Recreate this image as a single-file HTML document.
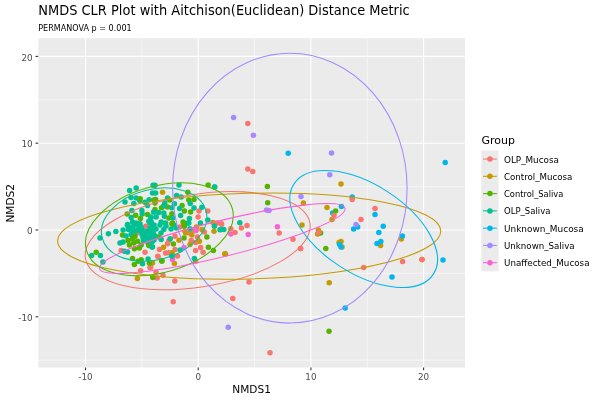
<!DOCTYPE html>
<html lang="en"><head><meta charset="utf-8"><title>NMDS CLR Plot</title>
<style>html,body{margin:0;padding:0;background:#fff;}svg{display:block;}text{font-family:"DejaVu Sans","Liberation Sans",sans-serif;}</style></head><body>
<svg width="600" height="400" viewBox="0 0 600 400">
<rect width="600" height="400" fill="#fff"/>
<rect x="38.25" y="38.25" width="426.75" height="329.25" fill="#EBEBEB"/>
<g stroke="#fff" stroke-width="0.53" opacity="1">
<line x1="141.85" x2="141.85" y1="38.25" y2="367.5"/>
<line x1="254.55" x2="254.55" y1="38.25" y2="367.5"/>
<line x1="367.25" x2="367.25" y1="38.25" y2="367.5"/>
<line y1="360.20" y2="360.20" x1="38.25" x2="465.0"/>
<line y1="273.40" y2="273.40" x1="38.25" x2="465.0"/>
<line y1="186.60" y2="186.60" x1="38.25" x2="465.0"/>
<line y1="99.80" y2="99.80" x1="38.25" x2="465.0"/>
</g>
<g stroke="#fff" stroke-width="1.07">
<line x1="85.50" x2="85.50" y1="38.25" y2="367.5"/>
<line x1="198.20" x2="198.20" y1="38.25" y2="367.5"/>
<line x1="310.90" x2="310.90" y1="38.25" y2="367.5"/>
<line x1="423.60" x2="423.60" y1="38.25" y2="367.5"/>
<line y1="316.80" y2="316.80" x1="38.25" x2="465.0"/>
<line y1="230.00" y2="230.00" x1="38.25" x2="465.0"/>
<line y1="143.20" y2="143.20" x1="38.25" x2="465.0"/>
<line y1="56.40" y2="56.40" x1="38.25" x2="465.0"/>
</g>
<clipPath id="cp"><rect x="38.25" y="38.25" width="426.75" height="329.25"/></clipPath>
<g clip-path="url(#cp)">
<g>
<circle cx="173.2" cy="301.8" r="2.75" fill="#F8766D"/>
<circle cx="174.8" cy="281.0" r="2.75" fill="#F8766D"/>
<circle cx="163.0" cy="275.2" r="2.75" fill="#F8766D"/>
<circle cx="157.2" cy="278.0" r="2.75" fill="#F8766D"/>
<circle cx="156.0" cy="272.0" r="2.75" fill="#F8766D"/>
<circle cx="221.5" cy="224.2" r="2.75" fill="#F8766D"/>
<circle cx="199.0" cy="211.0" r="2.75" fill="#F8766D"/>
<circle cx="207.8" cy="211.0" r="2.75" fill="#F8766D"/>
<circle cx="198.1" cy="216.9" r="2.75" fill="#F8766D"/>
<circle cx="217.1" cy="223.1" r="2.75" fill="#F8766D"/>
<circle cx="221.5" cy="223.8" r="2.75" fill="#F8766D"/>
<circle cx="204.4" cy="232.1" r="2.75" fill="#F8766D"/>
<circle cx="193.1" cy="231.0" r="2.75" fill="#F8766D"/>
<circle cx="200.6" cy="247.5" r="2.75" fill="#F8766D"/>
<circle cx="195.6" cy="250.6" r="2.75" fill="#F8766D"/>
<circle cx="203.1" cy="252.2" r="2.75" fill="#F8766D"/>
<circle cx="195.6" cy="261.2" r="2.75" fill="#F8766D"/>
<circle cx="197.5" cy="236.9" r="2.75" fill="#F8766D"/>
<circle cx="195.6" cy="242.5" r="2.75" fill="#F8766D"/>
<circle cx="191.2" cy="240.6" r="2.75" fill="#F8766D"/>
<circle cx="189.4" cy="233.1" r="2.75" fill="#F8766D"/>
<circle cx="175.0" cy="236.2" r="2.75" fill="#F8766D"/>
<circle cx="175.0" cy="249.4" r="2.75" fill="#F8766D"/>
<circle cx="167.5" cy="243.8" r="2.75" fill="#F8766D"/>
<circle cx="159.4" cy="249.4" r="2.75" fill="#F8766D"/>
<circle cx="165.6" cy="253.1" r="2.75" fill="#F8766D"/>
<circle cx="168.8" cy="252.8" r="2.75" fill="#F8766D"/>
<circle cx="177.5" cy="255.9" r="2.75" fill="#F8766D"/>
<circle cx="157.8" cy="256.2" r="2.75" fill="#F8766D"/>
<circle cx="150.6" cy="267.5" r="2.75" fill="#F8766D"/>
<circle cx="180.0" cy="226.9" r="2.75" fill="#F8766D"/>
<circle cx="145.9" cy="226.2" r="2.75" fill="#F8766D"/>
<circle cx="136.9" cy="233.1" r="2.75" fill="#F8766D"/>
<circle cx="121.2" cy="250.6" r="2.75" fill="#F8766D"/>
<circle cx="145.0" cy="252.2" r="2.75" fill="#F8766D"/>
<circle cx="150.0" cy="267.5" r="2.75" fill="#F8766D"/>
<circle cx="140.6" cy="270.8" r="2.75" fill="#F8766D"/>
<circle cx="158.0" cy="256.5" r="2.75" fill="#F8766D"/>
<circle cx="168.8" cy="240.6" r="2.75" fill="#F8766D"/>
<circle cx="225.5" cy="254.0" r="2.75" fill="#C49A00"/>
<circle cx="162.5" cy="192.2" r="2.75" fill="#C49A00"/>
<circle cx="212.9" cy="222.5" r="2.75" fill="#C49A00"/>
<circle cx="214.0" cy="231.2" r="2.75" fill="#C49A00"/>
<circle cx="201.9" cy="229.4" r="2.75" fill="#C49A00"/>
<circle cx="224.8" cy="253.8" r="2.75" fill="#C49A00"/>
<circle cx="191.9" cy="235.0" r="2.75" fill="#C49A00"/>
<circle cx="199.4" cy="241.2" r="2.75" fill="#C49A00"/>
<circle cx="190.0" cy="244.4" r="2.75" fill="#C49A00"/>
<circle cx="185.6" cy="233.1" r="2.75" fill="#C49A00"/>
<circle cx="179.0" cy="240.2" r="2.75" fill="#C49A00"/>
<circle cx="163.5" cy="247.2" r="2.75" fill="#C49A00"/>
<circle cx="172.2" cy="252.8" r="2.75" fill="#C49A00"/>
<circle cx="174.4" cy="263.4" r="2.75" fill="#C49A00"/>
<circle cx="151.9" cy="263.1" r="2.75" fill="#C49A00"/>
<circle cx="185.0" cy="231.2" r="2.75" fill="#C49A00"/>
<circle cx="152.5" cy="263.1" r="2.75" fill="#C49A00"/>
<circle cx="137.4" cy="278.5" r="2.75" fill="#C49A00"/>
<circle cx="196.5" cy="227.0" r="2.75" fill="#C49A00"/>
<circle cx="214.4" cy="187.0" r="2.75" fill="#00C094"/>
<circle cx="228.2" cy="327.2" r="2.75" fill="#A58AFF"/>
<circle cx="152.8" cy="277.5" r="2.75" fill="#53B400"/>
<circle cx="220.8" cy="229.5" r="2.75" fill="#00C094"/>
<circle cx="223.8" cy="229.5" r="2.75" fill="#00C094"/>
<circle cx="129.6" cy="190.4" r="2.75" fill="#00C094"/>
<circle cx="136.2" cy="188.1" r="2.75" fill="#00C094"/>
<circle cx="153.1" cy="185.2" r="2.75" fill="#00C094"/>
<circle cx="152.5" cy="193.1" r="2.75" fill="#00C094"/>
<circle cx="131.0" cy="197.5" r="2.75" fill="#00C094"/>
<circle cx="136.2" cy="198.1" r="2.75" fill="#00C094"/>
<circle cx="139.8" cy="200.4" r="2.75" fill="#00C094"/>
<circle cx="140.2" cy="198.8" r="2.75" fill="#53B400"/>
<circle cx="125.0" cy="201.9" r="2.75" fill="#00C094"/>
<circle cx="133.8" cy="203.5" r="2.75" fill="#00C094"/>
<circle cx="145.0" cy="202.2" r="2.75" fill="#00C094"/>
<circle cx="149.1" cy="199.8" r="2.75" fill="#00C094"/>
<circle cx="147.5" cy="205.6" r="2.75" fill="#00C094"/>
<circle cx="153.8" cy="200.0" r="2.75" fill="#53B400"/>
<circle cx="131.9" cy="210.4" r="2.75" fill="#00C094"/>
<circle cx="141.9" cy="210.6" r="2.75" fill="#00C094"/>
<circle cx="127.2" cy="214.0" r="2.75" fill="#53B400"/>
<circle cx="131.2" cy="217.5" r="2.75" fill="#00C094"/>
<circle cx="135.6" cy="215.2" r="2.75" fill="#53B400"/>
<circle cx="142.2" cy="214.0" r="2.75" fill="#00C094"/>
<circle cx="140.4" cy="218.5" r="2.75" fill="#53B400"/>
<circle cx="147.5" cy="214.4" r="2.75" fill="#53B400"/>
<circle cx="150.6" cy="216.9" r="2.75" fill="#00C094"/>
<circle cx="153.8" cy="211.9" r="2.75" fill="#00C094"/>
<circle cx="132.5" cy="221.9" r="2.75" fill="#00C094"/>
<circle cx="136.2" cy="223.0" r="2.75" fill="#00C094"/>
<circle cx="127.5" cy="224.4" r="2.75" fill="#00C094"/>
<circle cx="148.8" cy="221.2" r="2.75" fill="#00C094"/>
<circle cx="140.0" cy="223.8" r="2.75" fill="#00C094"/>
<circle cx="155.0" cy="185.2" r="2.75" fill="#00C094"/>
<circle cx="179.0" cy="185.0" r="2.75" fill="#00C094"/>
<circle cx="214.8" cy="187.1" r="2.75" fill="#00C094"/>
<circle cx="208.1" cy="185.0" r="2.75" fill="#53B400"/>
<circle cx="155.6" cy="193.1" r="2.75" fill="#00C094"/>
<circle cx="187.8" cy="192.2" r="2.75" fill="#53B400"/>
<circle cx="176.6" cy="195.6" r="2.75" fill="#00C094"/>
<circle cx="181.2" cy="196.9" r="2.75" fill="#00C094"/>
<circle cx="167.5" cy="198.1" r="2.75" fill="#00C094"/>
<circle cx="169.8" cy="200.0" r="2.75" fill="#53B400"/>
<circle cx="155.6" cy="199.4" r="2.75" fill="#53B400"/>
<circle cx="188.8" cy="200.0" r="2.75" fill="#53B400"/>
<circle cx="194.0" cy="199.6" r="2.75" fill="#53B400"/>
<circle cx="190.2" cy="203.5" r="2.75" fill="#00C094"/>
<circle cx="164.8" cy="203.1" r="2.75" fill="#00C094"/>
<circle cx="155.0" cy="203.0" r="2.75" fill="#53B400"/>
<circle cx="174.4" cy="203.8" r="2.75" fill="#00C094"/>
<circle cx="182.1" cy="205.4" r="2.75" fill="#53B400"/>
<circle cx="163.8" cy="206.0" r="2.75" fill="#00C094"/>
<circle cx="161.5" cy="207.8" r="2.75" fill="#53B400"/>
<circle cx="167.5" cy="206.9" r="2.75" fill="#53B400"/>
<circle cx="171.9" cy="207.8" r="2.75" fill="#00C094"/>
<circle cx="179.6" cy="208.4" r="2.75" fill="#00C094"/>
<circle cx="184.4" cy="211.0" r="2.75" fill="#53B400"/>
<circle cx="190.6" cy="211.9" r="2.75" fill="#53B400"/>
<circle cx="194.0" cy="208.1" r="2.75" fill="#00C094"/>
<circle cx="201.9" cy="207.2" r="2.75" fill="#00C094"/>
<circle cx="155.0" cy="209.4" r="2.75" fill="#53B400"/>
<circle cx="153.8" cy="211.9" r="2.75" fill="#00C094"/>
<circle cx="158.8" cy="212.5" r="2.75" fill="#00C094"/>
<circle cx="163.8" cy="213.1" r="2.75" fill="#00C094"/>
<circle cx="156.2" cy="216.9" r="2.75" fill="#00C094"/>
<circle cx="164.4" cy="216.2" r="2.75" fill="#00C094"/>
<circle cx="171.9" cy="213.8" r="2.75" fill="#53B400"/>
<circle cx="180.6" cy="215.6" r="2.75" fill="#00C094"/>
<circle cx="168.8" cy="218.1" r="2.75" fill="#53B400"/>
<circle cx="172.8" cy="218.1" r="2.75" fill="#00C094"/>
<circle cx="189.4" cy="218.5" r="2.75" fill="#00C094"/>
<circle cx="183.1" cy="221.9" r="2.75" fill="#53B400"/>
<circle cx="188.1" cy="223.1" r="2.75" fill="#00C094"/>
<circle cx="151.2" cy="217.5" r="2.75" fill="#00C094"/>
<circle cx="151.2" cy="221.9" r="2.75" fill="#00C094"/>
<circle cx="161.2" cy="221.9" r="2.75" fill="#00C094"/>
<circle cx="165.6" cy="223.1" r="2.75" fill="#00C094"/>
<circle cx="172.5" cy="223.1" r="2.75" fill="#53B400"/>
<circle cx="207.8" cy="220.0" r="2.75" fill="#00C094"/>
<circle cx="200.4" cy="223.1" r="2.75" fill="#00C094"/>
<circle cx="214.4" cy="226.2" r="2.75" fill="#00C094"/>
<circle cx="220.0" cy="229.8" r="2.75" fill="#00C094"/>
<circle cx="196.2" cy="230.6" r="2.75" fill="#FB61D7"/>
<circle cx="206.9" cy="236.9" r="2.75" fill="#53B400"/>
<circle cx="208.4" cy="247.2" r="2.75" fill="#53B400"/>
<circle cx="213.4" cy="250.6" r="2.75" fill="#53B400"/>
<circle cx="194.4" cy="258.5" r="2.75" fill="#00C094"/>
<circle cx="184.0" cy="237.9" r="2.75" fill="#53B400"/>
<circle cx="170.2" cy="238.8" r="2.75" fill="#00C094"/>
<circle cx="173.4" cy="244.0" r="2.75" fill="#53B400"/>
<circle cx="184.0" cy="247.5" r="2.75" fill="#FB61D7"/>
<circle cx="180.2" cy="250.0" r="2.75" fill="#00C094"/>
<circle cx="171.9" cy="256.2" r="2.75" fill="#00C094"/>
<circle cx="172.5" cy="259.4" r="2.75" fill="#FB61D7"/>
<circle cx="161.9" cy="260.6" r="2.75" fill="#53B400"/>
<circle cx="153.0" cy="226.0" r="2.75" fill="#00C094"/>
<circle cx="156.0" cy="229.0" r="2.75" fill="#00C094"/>
<circle cx="151.0" cy="233.0" r="2.75" fill="#00C094"/>
<circle cx="155.0" cy="236.0" r="2.75" fill="#00C094"/>
<circle cx="161.0" cy="233.0" r="2.75" fill="#00C094"/>
<circle cx="152.0" cy="241.0" r="2.75" fill="#00C094"/>
<circle cx="152.5" cy="246.9" r="2.75" fill="#00C094"/>
<circle cx="163.8" cy="229.4" r="2.75" fill="#00C094"/>
<circle cx="166.0" cy="226.0" r="2.75" fill="#00C094"/>
<circle cx="160.0" cy="225.0" r="2.75" fill="#00C094"/>
<circle cx="171.0" cy="229.0" r="2.75" fill="#00C094"/>
<circle cx="176.2" cy="228.0" r="2.75" fill="#00C094"/>
<circle cx="174.0" cy="225.0" r="2.75" fill="#00C094"/>
<circle cx="171.9" cy="223.8" r="2.75" fill="#53B400"/>
<circle cx="183.5" cy="223.1" r="2.75" fill="#53B400"/>
<circle cx="184.4" cy="226.2" r="2.75" fill="#53B400"/>
<circle cx="188.8" cy="223.0" r="2.75" fill="#00C094"/>
<circle cx="190.0" cy="228.8" r="2.75" fill="#00C094"/>
<circle cx="158.8" cy="236.9" r="2.75" fill="#53B400"/>
<circle cx="161.2" cy="239.4" r="2.75" fill="#00C094"/>
<circle cx="100.0" cy="238.1" r="2.75" fill="#00C094"/>
<circle cx="108.4" cy="233.8" r="2.75" fill="#00C094"/>
<circle cx="115.9" cy="231.6" r="2.75" fill="#00C094"/>
<circle cx="96.2" cy="252.2" r="2.75" fill="#53B400"/>
<circle cx="91.6" cy="255.6" r="2.75" fill="#00C094"/>
<circle cx="100.4" cy="255.4" r="2.75" fill="#00C094"/>
<circle cx="102.9" cy="262.1" r="2.75" fill="#00C094"/>
<circle cx="123.1" cy="230.0" r="2.75" fill="#00C094"/>
<circle cx="122.5" cy="235.0" r="2.75" fill="#53B400"/>
<circle cx="127.5" cy="225.6" r="2.75" fill="#00C094"/>
<circle cx="132.0" cy="227.0" r="2.75" fill="#00C094"/>
<circle cx="137.0" cy="224.0" r="2.75" fill="#00C094"/>
<circle cx="141.0" cy="227.0" r="2.75" fill="#00C094"/>
<circle cx="136.0" cy="231.0" r="2.75" fill="#00C094"/>
<circle cx="131.0" cy="234.5" r="2.75" fill="#00C094"/>
<circle cx="126.0" cy="236.0" r="2.75" fill="#00C094"/>
<circle cx="141.0" cy="231.0" r="2.75" fill="#00C094"/>
<circle cx="145.0" cy="233.0" r="2.75" fill="#00C094"/>
<circle cx="149.0" cy="232.0" r="2.75" fill="#00C094"/>
<circle cx="153.0" cy="230.0" r="2.75" fill="#00C094"/>
<circle cx="150.0" cy="223.0" r="2.75" fill="#00C094"/>
<circle cx="154.0" cy="225.0" r="2.75" fill="#00C094"/>
<circle cx="143.0" cy="238.0" r="2.75" fill="#00C094"/>
<circle cx="147.0" cy="238.0" r="2.75" fill="#00C094"/>
<circle cx="151.0" cy="236.0" r="2.75" fill="#00C094"/>
<circle cx="154.0" cy="240.0" r="2.75" fill="#00C094"/>
<circle cx="148.0" cy="243.0" r="2.75" fill="#00C094"/>
<circle cx="120.0" cy="243.1" r="2.75" fill="#00C094"/>
<circle cx="123.1" cy="241.9" r="2.75" fill="#00C094"/>
<circle cx="128.1" cy="240.6" r="2.75" fill="#53B400"/>
<circle cx="132.5" cy="238.8" r="2.75" fill="#53B400"/>
<circle cx="135.0" cy="236.2" r="2.75" fill="#53B400"/>
<circle cx="129.4" cy="245.0" r="2.75" fill="#53B400"/>
<circle cx="133.8" cy="243.1" r="2.75" fill="#53B400"/>
<circle cx="137.5" cy="241.2" r="2.75" fill="#53B400"/>
<circle cx="134.4" cy="248.8" r="2.75" fill="#53B400"/>
<circle cx="139.4" cy="248.1" r="2.75" fill="#53B400"/>
<circle cx="141.2" cy="245.0" r="2.75" fill="#53B400"/>
<circle cx="148.8" cy="245.6" r="2.75" fill="#53B400"/>
<circle cx="151.9" cy="246.9" r="2.75" fill="#00C094"/>
<circle cx="124.4" cy="251.2" r="2.75" fill="#00C094"/>
<circle cx="127.5" cy="251.9" r="2.75" fill="#00C094"/>
<circle cx="132.5" cy="258.5" r="2.75" fill="#53B400"/>
<circle cx="141.2" cy="259.8" r="2.75" fill="#53B400"/>
<circle cx="138.1" cy="261.2" r="2.75" fill="#53B400"/>
<circle cx="148.1" cy="259.0" r="2.75" fill="#00C094"/>
<circle cx="134.4" cy="264.4" r="2.75" fill="#53B400"/>
<circle cx="142.5" cy="263.8" r="2.75" fill="#00C094"/>
<circle cx="149.4" cy="263.1" r="2.75" fill="#53B400"/>
<circle cx="161.8" cy="261.3" r="2.75" fill="#53B400"/>
<circle cx="128.5" cy="229.5" r="2.75" fill="#00C094"/>
<circle cx="133.0" cy="227.5" r="2.75" fill="#00C094"/>
<circle cx="135.5" cy="224.0" r="2.75" fill="#00C094"/>
<circle cx="138.5" cy="229.0" r="2.75" fill="#00C094"/>
<circle cx="132.5" cy="231.5" r="2.75" fill="#00C094"/>
<circle cx="139.5" cy="225.0" r="2.75" fill="#00C094"/>
<circle cx="142.0" cy="234.5" r="2.75" fill="#00C094"/>
<circle cx="146.5" cy="231.5" r="2.75" fill="#00C094"/>
<circle cx="150.0" cy="228.0" r="2.75" fill="#00C094"/>
<circle cx="153.5" cy="234.0" r="2.75" fill="#00C094"/>
<circle cx="146.0" cy="236.0" r="2.75" fill="#00C094"/>
<circle cx="150.0" cy="239.0" r="2.75" fill="#00C094"/>
<circle cx="143.5" cy="240.5" r="2.75" fill="#00C094"/>
<circle cx="152.0" cy="242.0" r="2.75" fill="#00C094"/>
<circle cx="155.0" cy="237.0" r="2.75" fill="#00C094"/>
<circle cx="151.5" cy="231.0" r="2.75" fill="#00C094"/>
<circle cx="142.0" cy="229.5" r="2.75" fill="#00C094"/>
<circle cx="164.1" cy="205.6" r="2.75" fill="#00C094"/>
<circle cx="172.0" cy="256.1" r="2.75" fill="#00C094"/>
<circle cx="233.6" cy="117.6" r="2.75" fill="#A58AFF"/>
<circle cx="253.4" cy="135.2" r="2.75" fill="#A58AFF"/>
<circle cx="331.5" cy="153.0" r="2.75" fill="#A58AFF"/>
<circle cx="329.8" cy="174.8" r="2.75" fill="#A58AFF"/>
<circle cx="247.8" cy="123.6" r="2.75" fill="#F8766D"/>
<circle cx="247.8" cy="169.0" r="2.75" fill="#F8766D"/>
<circle cx="252.8" cy="171.6" r="2.75" fill="#F8766D"/>
<circle cx="288.2" cy="153.2" r="2.75" fill="#00B6EB"/>
<circle cx="445.2" cy="162.5" r="2.75" fill="#00B6EB"/>
<circle cx="267.4" cy="186.4" r="2.75" fill="#53B400"/>
<circle cx="341.0" cy="184.0" r="2.75" fill="#C49A00"/>
<circle cx="301.0" cy="196.6" r="2.75" fill="#A58AFF"/>
<circle cx="303.4" cy="203.0" r="2.75" fill="#C49A00"/>
<circle cx="302.0" cy="225.0" r="2.75" fill="#C49A00"/>
<circle cx="300.6" cy="248.4" r="2.75" fill="#F8766D"/>
<circle cx="352.2" cy="197.0" r="2.75" fill="#00B6EB"/>
<circle cx="352.2" cy="199.6" r="2.75" fill="#F8766D"/>
<circle cx="327.0" cy="207.6" r="2.75" fill="#C49A00"/>
<circle cx="341.4" cy="206.4" r="2.75" fill="#00B6EB"/>
<circle cx="332.6" cy="213.0" r="2.75" fill="#00B6EB"/>
<circle cx="335.6" cy="211.0" r="2.75" fill="#53B400"/>
<circle cx="332.0" cy="219.6" r="2.75" fill="#C49A00"/>
<circle cx="334.0" cy="215.4" r="2.75" fill="#F8766D"/>
<circle cx="361.0" cy="219.6" r="2.75" fill="#F8766D"/>
<circle cx="353.6" cy="229.0" r="2.75" fill="#00B6EB"/>
<circle cx="357.6" cy="227.0" r="2.75" fill="#00B6EB"/>
<circle cx="356.0" cy="224.4" r="2.75" fill="#A58AFF"/>
<circle cx="375.0" cy="208.4" r="2.75" fill="#F8766D"/>
<circle cx="375.0" cy="214.6" r="2.75" fill="#00B6EB"/>
<circle cx="383.2" cy="226.2" r="2.75" fill="#00B6EB"/>
<circle cx="378.8" cy="232.4" r="2.75" fill="#00B6EB"/>
<circle cx="380.6" cy="245.6" r="2.75" fill="#C49A00"/>
<circle cx="377.0" cy="243.4" r="2.75" fill="#00B6EB"/>
<circle cx="380.8" cy="241.6" r="2.75" fill="#00B6EB"/>
<circle cx="401.4" cy="239.0" r="2.75" fill="#C49A00"/>
<circle cx="402.4" cy="236.0" r="2.75" fill="#00B6EB"/>
<circle cx="318.4" cy="230.0" r="2.75" fill="#C49A00"/>
<circle cx="317.6" cy="234.0" r="2.75" fill="#C49A00"/>
<circle cx="320.6" cy="233.0" r="2.75" fill="#53B400"/>
<circle cx="319.0" cy="232.2" r="2.75" fill="#F8766D"/>
<circle cx="339.0" cy="242.4" r="2.75" fill="#C49A00"/>
<circle cx="341.0" cy="241.6" r="2.75" fill="#C49A00"/>
<circle cx="342.0" cy="247.0" r="2.75" fill="#C49A00"/>
<circle cx="339.6" cy="244.4" r="2.75" fill="#00B6EB"/>
<circle cx="341.0" cy="247.0" r="2.75" fill="#00B6EB"/>
<circle cx="325.8" cy="248.4" r="2.75" fill="#53B400"/>
<circle cx="402.6" cy="261.4" r="2.75" fill="#F8766D"/>
<circle cx="363.7" cy="267.4" r="2.75" fill="#F8766D"/>
<circle cx="422.0" cy="259.6" r="2.75" fill="#C49A00"/>
<circle cx="422.0" cy="259.6" r="2.75" fill="#F8766D"/>
<circle cx="443.0" cy="260.0" r="2.75" fill="#00B6EB"/>
<circle cx="329.2" cy="282.8" r="2.75" fill="#C49A00"/>
<circle cx="345.2" cy="308.0" r="2.75" fill="#00B6EB"/>
<circle cx="392.0" cy="277.0" r="2.75" fill="#00B6EB"/>
<circle cx="329.0" cy="331.2" r="2.75" fill="#53B400"/>
<circle cx="232.8" cy="298.5" r="2.75" fill="#F8766D"/>
<circle cx="249.0" cy="282.0" r="2.75" fill="#F8766D"/>
<circle cx="270.0" cy="352.8" r="2.75" fill="#F8766D"/>
<circle cx="267.7" cy="202.8" r="2.75" fill="#53B400"/>
<circle cx="266.5" cy="210.0" r="2.75" fill="#A58AFF"/>
<circle cx="269.0" cy="210.4" r="2.75" fill="#A58AFF"/>
<circle cx="277.4" cy="226.8" r="2.75" fill="#FB61D7"/>
<circle cx="279.2" cy="233.0" r="2.75" fill="#F8766D"/>
<circle cx="293.0" cy="239.2" r="2.75" fill="#F8766D"/>
<circle cx="300.5" cy="248.5" r="2.75" fill="#F8766D"/>
<circle cx="239.8" cy="222.8" r="2.75" fill="#00C094"/>
<circle cx="247.0" cy="225.4" r="2.75" fill="#F8766D"/>
<circle cx="241.4" cy="228.0" r="2.75" fill="#F8766D"/>
<circle cx="248.2" cy="234.4" r="2.75" fill="#FB61D7"/>
<circle cx="230.8" cy="228.8" r="2.75" fill="#F8766D"/>
<circle cx="230.8" cy="234.0" r="2.75" fill="#FB61D7"/>
<circle cx="235.0" cy="232.5" r="2.75" fill="#F8766D"/>
</g>
<g fill="none" stroke-width="1.07">
<ellipse cx="197.68" cy="240.71" rx="46.27" ry="113.69" transform="rotate(81.12 197.68 240.71)" stroke="#F8766D"/>
<ellipse cx="249.15" cy="236.12" rx="191.66" ry="42.81" transform="rotate(178.46 249.15 236.12)" stroke="#C49A00"/>
<ellipse cx="159.35" cy="229.28" rx="43.11" ry="75.88" transform="rotate(73.95 159.35 229.28)" stroke="#53B400"/>
<ellipse cx="154.11" cy="224.57" rx="35.21" ry="53.65" transform="rotate(75.59 154.11 224.57)" stroke="#00C094"/>
<ellipse cx="363.70" cy="228.99" rx="44.27" ry="83.02" transform="rotate(122.93 363.70 228.99)" stroke="#00B6EB"/>
<ellipse cx="289.84" cy="188.17" rx="134.92" ry="117.23" transform="rotate(-90.03 289.84 188.17)" stroke="#A58AFF"/>
<ellipse cx="222.30" cy="238.55" rx="17.94" ry="126.36" transform="rotate(76.18 222.30 238.55)" stroke="#FB61D7"/>
</g></g>
<g stroke="#333" stroke-width="1.07">
<line x1="85.50" x2="85.50" y1="367.5" y2="370.25"/>
<line y1="316.80" y2="316.80" x1="35.5" x2="38.25"/>
<line x1="198.20" x2="198.20" y1="367.5" y2="370.25"/>
<line y1="230.00" y2="230.00" x1="35.5" x2="38.25"/>
<line x1="310.90" x2="310.90" y1="367.5" y2="370.25"/>
<line y1="143.20" y2="143.20" x1="35.5" x2="38.25"/>
<line x1="423.60" x2="423.60" y1="367.5" y2="370.25"/>
<line y1="56.40" y2="56.40" x1="35.5" x2="38.25"/>
</g>
<g fill="#4D4D4D" font-size="8.8px">
<text x="85.50" y="379.50" text-anchor="middle">-10</text>
<text x="32.65" y="321.00" text-anchor="end">-10</text>
<text x="198.20" y="379.50" text-anchor="middle">0</text>
<text x="32.65" y="234.20" text-anchor="end">0</text>
<text x="310.90" y="379.50" text-anchor="middle">10</text>
<text x="32.65" y="147.40" text-anchor="end">10</text>
<text x="423.60" y="379.50" text-anchor="middle">20</text>
<text x="32.65" y="60.60" text-anchor="end">20</text>
</g>
<text x="251.62" y="392.5" font-size="11px" textLength="38.6" lengthAdjust="spacingAndGlyphs" text-anchor="middle" fill="#000">NMDS1</text>
<text transform="translate(13.5 203.28) rotate(-90)" font-size="11px" textLength="38.6" lengthAdjust="spacingAndGlyphs" text-anchor="middle" fill="#000">NMDS2</text>
<text x="38.25" y="15.2" font-size="13.3px" textLength="371.4" lengthAdjust="spacingAndGlyphs" fill="#000">NMDS CLR Plot with Aitchison(Euclidean) Distance Metric</text>
<text x="38.25" y="30.7" font-size="8.5px" textLength="93.4" lengthAdjust="spacingAndGlyphs" fill="#000">PERMANOVA p = 0.001</text>
<text x="481.5" y="144" font-size="11px" fill="#000">Group</text>
<rect x="481.3" y="150.4" width="17.28" height="120.96" fill="#EBEBEB"/>
<line x1="483.0" x2="496.9" y1="159.04" y2="159.04" stroke="#F8766D" stroke-width="1.07"/>
<circle cx="489.94" cy="159.04" r="2.75" fill="#F8766D"/>
<text x="504.0" y="162.64" font-size="8.8px" fill="#000" textLength="54.9" lengthAdjust="spacingAndGlyphs">OLP_Mucosa</text>
<line x1="483.0" x2="496.9" y1="176.32" y2="176.32" stroke="#C49A00" stroke-width="1.07"/>
<circle cx="489.94" cy="176.32" r="2.75" fill="#C49A00"/>
<text x="504.0" y="179.92" font-size="8.8px" fill="#000" textLength="68.4" lengthAdjust="spacingAndGlyphs">Control_Mucosa</text>
<line x1="483.0" x2="496.9" y1="193.60" y2="193.60" stroke="#53B400" stroke-width="1.07"/>
<circle cx="489.94" cy="193.60" r="2.75" fill="#53B400"/>
<text x="504.0" y="197.20" font-size="8.8px" fill="#000" textLength="59.4" lengthAdjust="spacingAndGlyphs">Control_Saliva</text>
<line x1="483.0" x2="496.9" y1="210.88" y2="210.88" stroke="#00C094" stroke-width="1.07"/>
<circle cx="489.94" cy="210.88" r="2.75" fill="#00C094"/>
<text x="504.0" y="214.48" font-size="8.8px" fill="#000" textLength="46.4" lengthAdjust="spacingAndGlyphs">OLP_Saliva</text>
<line x1="483.0" x2="496.9" y1="228.16" y2="228.16" stroke="#00B6EB" stroke-width="1.07"/>
<circle cx="489.94" cy="228.16" r="2.75" fill="#00B6EB"/>
<text x="504.0" y="231.76" font-size="8.8px" fill="#000" textLength="79.7" lengthAdjust="spacingAndGlyphs">Unknown_Mucosa</text>
<line x1="483.0" x2="496.9" y1="245.44" y2="245.44" stroke="#A58AFF" stroke-width="1.07"/>
<circle cx="489.94" cy="245.44" r="2.75" fill="#A58AFF"/>
<text x="504.0" y="249.04" font-size="8.8px" fill="#000" textLength="70.6" lengthAdjust="spacingAndGlyphs">Unknown_Saliva</text>
<line x1="483.0" x2="496.9" y1="262.72" y2="262.72" stroke="#FB61D7" stroke-width="1.07"/>
<circle cx="489.94" cy="262.72" r="2.75" fill="#FB61D7"/>
<text x="504.0" y="266.32" font-size="8.8px" fill="#000" textLength="85.5" lengthAdjust="spacingAndGlyphs">Unaffected_Mucosa</text>
</svg></body></html>
